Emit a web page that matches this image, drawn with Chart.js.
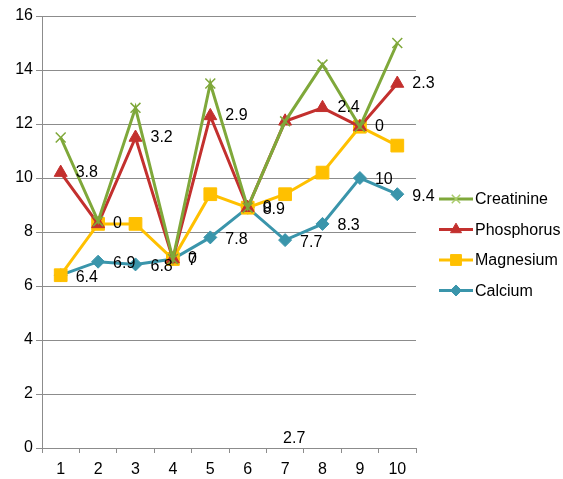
<!DOCTYPE html>
<html>
<head>
<meta charset="utf-8">
<script src="https://cdn.jsdelivr.net/npm/chart.js@4/dist/chart.umd.min.js"></script>
<style>
  html, body { margin: 0; padding: 0; background: #ffffff; }
  #wrap { width: 563px; height: 479px; position: relative; }
</style>
</head>
<body>
<div id="wrap"><canvas id="c" width="563" height="479"></canvas></div>
<script>
// Sample numbers 1..10 on the category axis
const categories = ['1', '2', '3', '4', '5', '6', '7', '8', '9', '10'];

// Per-series values (stacked on top of each other in this order)
const calcium    = [6.4, 6.9, 6.8, 7, 7.8, 8.9, 7.7, 8.3, 10, 9.4];
const magnesium  = [0, 1.4, 1.5, 0, 1.6, 0, 1.7, 1.9, 1.9, 1.8];
const phosphorus = [3.8, 0, 3.2, 0, 2.9, 0, 2.7, 2.4, 0, 2.3];
const creatinine = [1.3, 0.1, 1.1, 0, 1.2, 0, 0, 1.6, 0, 1.5];

const yTicks = [0, 2, 4, 6, 8, 10, 12, 14, 16];

const FONT = "'Liberation Sans', Arial, sans-serif";
const GRID = '#8c8c8c';

// running totals so each line sits on the one below it
function cumulative(...series) {
  return series[0].map((_, i) => series.reduce((s, arr) => s + arr[i], 0));
}
const calciumTop    = cumulative(calcium);
const magnesiumTop  = cumulative(calcium, magnesium);
const phosphorusTop = cumulative(calcium, magnesium, phosphorus);
const creatinineTop = cumulative(calcium, magnesium, phosphorus, creatinine);

const seriesDefs = [
  { label: 'Creatinine', top: creatinineTop, raw: creatinine, color: '#7fa83a', legendMark: '#a9cc6a',
    pointStyle: 'crossRot', radius: 7, pointBorderWidth: 1.5, order: 0 },
  { label: 'Phosphorus', top: phosphorusTop, raw: phosphorus, color: '#c3302e', legendMark: '#c3302e',
    pointStyle: 'triangle', radius: 7.5, pointBorderWidth: 1, order: 1 },
  { label: 'Magnesium', top: magnesiumTop, raw: magnesium, color: '#ffc000', legendMark: '#ffc000',
    pointStyle: 'rect', radius: 9, pointBorderWidth: 1, order: 2 },
  { label: 'Calcium', top: calciumTop, raw: calcium, color: '#3a95ab', legendMark: '#3a95ab',
    pointStyle: 'rectRot', radius: 6.5, pointBorderWidth: 1, order: 3 }
];

const datasets = seriesDefs.map(s => ({
  label: s.label,
  data: s.top,
  rawValues: s.raw,
  borderColor: s.color,
  backgroundColor: s.color,
  borderWidth: 3,
  pointStyle: s.pointStyle,
  pointRadius: s.radius,
  pointHoverRadius: s.radius,
  pointBorderWidth: s.pointBorderWidth,
  pointBorderColor: s.color,
  pointBackgroundColor: s.color,
  tension: 0,
  order: s.order,
  legendMark: s.legendMark
}));

// value labels beside the Calcium and Phosphorus points
const valueLabels = {
  id: 'valueLabels',
  afterDatasetsDraw(chart) {
    const ctx = chart.ctx;
    ctx.save();
    ctx.font = '16px ' + FONT;
    ctx.fillStyle = '#000000';
    ctx.textAlign = 'left';
    ctx.textBaseline = 'middle';
    const bottom = chart.chartArea.bottom;
    chart.data.datasets.forEach((ds, di) => {
      if (ds.label !== 'Calcium' && ds.label !== 'Phosphorus') return;
      const meta = chart.getDatasetMeta(di);
      meta.data.forEach((pt, i) => {
        const text = String(ds.rawValues[i]);
        let x = pt.x + 15;
        let y = pt.y + (ds.label === 'Calcium' ? 2 : 0);
        // the seventh Phosphorus label was pushed down onto the axis
        if (ds.label === 'Phosphorus' && i === 6) {
          x = pt.x - 2;
          y = bottom - 9;
        }
        ctx.fillText(text, x, y);
      });
    });
    ctx.restore();
  }
};

// legend on the right: short line with the series marker, then the name
const sideLegend = {
  id: 'sideLegend',
  afterDraw(chart) {
    const ctx = chart.ctx;
    const area = chart.chartArea;
    const x0 = area.right + 23;
    const lineLen = 34;
    const yStart = 199;
    const step = 30.5;
    ctx.save();
    chart.data.datasets.forEach((ds, i) => {
      const y = yStart + i * step;
      ctx.strokeStyle = ds.borderColor;
      ctx.lineWidth = 3;
      ctx.beginPath();
      ctx.moveTo(x0, y);
      ctx.lineTo(x0 + lineLen, y);
      ctx.stroke();
      ctx.fillStyle = ds.legendMark;
      ctx.strokeStyle = ds.legendMark;
      ctx.lineWidth = ds.pointBorderWidth;
      Chart.helpers.drawPoint(ctx, {
        pointStyle: ds.pointStyle,
        radius: ds.pointRadius * 0.85,
        rotation: 0,
        borderWidth: ds.pointBorderWidth
      }, x0 + lineLen / 2, y);
      ctx.fillStyle = '#000000';
      ctx.font = '16px ' + FONT;
      ctx.textAlign = 'left';
      ctx.textBaseline = 'middle';
      ctx.fillText(ds.label, x0 + lineLen + 2, y + 1);
    });
    ctx.restore();
  }
};

new Chart(document.getElementById('c'), {
  type: 'line',
  data: { labels: categories, datasets },
  options: {
    responsive: false,
    animation: false,
    devicePixelRatio: 1,
    layout: { padding: { left: 0, right: 147, top: 16, bottom: 0 } },
    plugins: {
      legend: { display: false },
      tooltip: { enabled: false }
    },
    scales: {
      x: {
        type: 'category',
        offset: true,
        grid: {
          offset: true,
          drawOnChartArea: false,
          drawTicks: true,
          tickLength: 5,
          color: GRID
        },
        border: { display: true, color: GRID, width: 1 },
        ticks: { color: '#000000', font: { family: FONT, size: 16 }, padding: 7, maxRotation: 0 },
        afterFit(s) { s.height = 31; }
      },
      y: {
        min: yTicks[0],
        max: yTicks[yTicks.length - 1],
        afterBuildTicks(s) { s.ticks = yTicks.map(v => ({ value: v })); },
        grid: { color: GRID, tickLength: 6, drawTicks: true },
        border: { display: true, color: GRID, width: 1 },
        ticks: { color: '#000000', font: { family: FONT, size: 16 }, padding: 3 },
        afterFit(s) { s.width = 42; }
      }
    }
  },
  plugins: [valueLabels, sideLegend]
});
</script>
</body>
</html>
